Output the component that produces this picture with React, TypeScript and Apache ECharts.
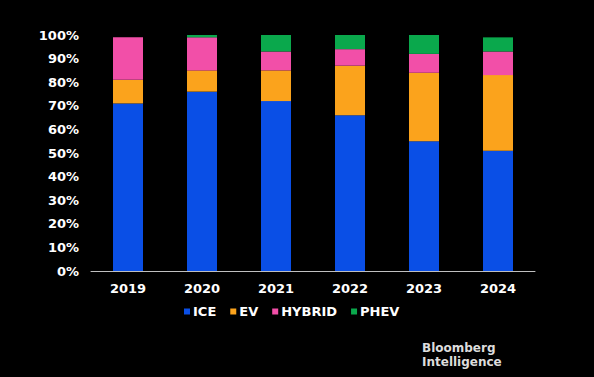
import React, { useEffect, useRef } from "react";
import * as echarts from "echarts";

const years = ["2019", "2020", "2021", "2022", "2023", "2024"];
const ice = [71, 76, 72, 66, 55, 51];
const ev = [10, 9, 13, 21, 29, 32];
const hybrid = [18, 14, 8, 7, 8, 10];
const phev = [0, 1, 7, 6, 8, 6];
const seriesNames = ["ICE", "EV", "HYBRID", "PHEV"];
const colors = ["#0a4fe6", "#fba31c", "#f24fa8", "#0aa84c"];

export default function App() {
  const ref = useRef<HTMLDivElement>(null);
  useEffect(() => {
    if (!ref.current) return;
    const chart = echarts.init(ref.current, null, { renderer: "svg" });
    const font = "'DejaVu Sans', Verdana, sans-serif";
    const data = [ice, ev, hybrid, phev];
    chart.setOption({
      animation: false,
      backgroundColor: "#000000",
      textStyle: { fontFamily: font },
      grid: { left: 91, right: 59, top: 35, bottom: 106 },
      legend: {
        data: seriesNames,
        top: 300,
        left: 179,
        icon: "rect",
        itemWidth: 6,
        itemHeight: 6,
        itemGap: 14,
        textStyle: { color: "#ffffff", fontWeight: "bold", fontSize: 13, fontFamily: font, padding: [0, 0, 0, -2] },
      },
      xAxis: {
        type: "category",
        data: years,
        axisLine: { show: true, lineStyle: { color: "#bfbfbf", width: 1 } },
        axisTick: { show: false },
        axisLabel: { color: "#ffffff", fontWeight: "bold", fontSize: 13, margin: 11, fontFamily: font },
      },
      yAxis: {
        type: "value",
        min: 0,
        max: 100,
        interval: 10,
        splitLine: { show: false },
        axisLine: { show: false },
        axisTick: { show: false },
        axisLabel: { color: "#ffffff", fontWeight: "bold", fontSize: 13, margin: 12, formatter: "{value}%", fontFamily: font },
      },
      series: seriesNames.map((n, i) => ({
        name: n,
        type: "bar",
        stack: "total",
        barWidth: 30,
        data: data[i],
        itemStyle: { color: colors[i] },
      })),
      graphic: [
        {
          type: "text",
          left: 422,
          top: 341,
          style: {
            text: "Bloomberg\nIntelligence",
            fill: "#dcdcdc",
            font: `bold 12px ${font}`,
            lineHeight: 14,
          },
        },
      ],
    });
    return () => chart.dispose();
  }, []);
  return <div ref={ref} style={{ width: 594, height: 377, position: "absolute", left: 0, top: 0 }} />;
}
